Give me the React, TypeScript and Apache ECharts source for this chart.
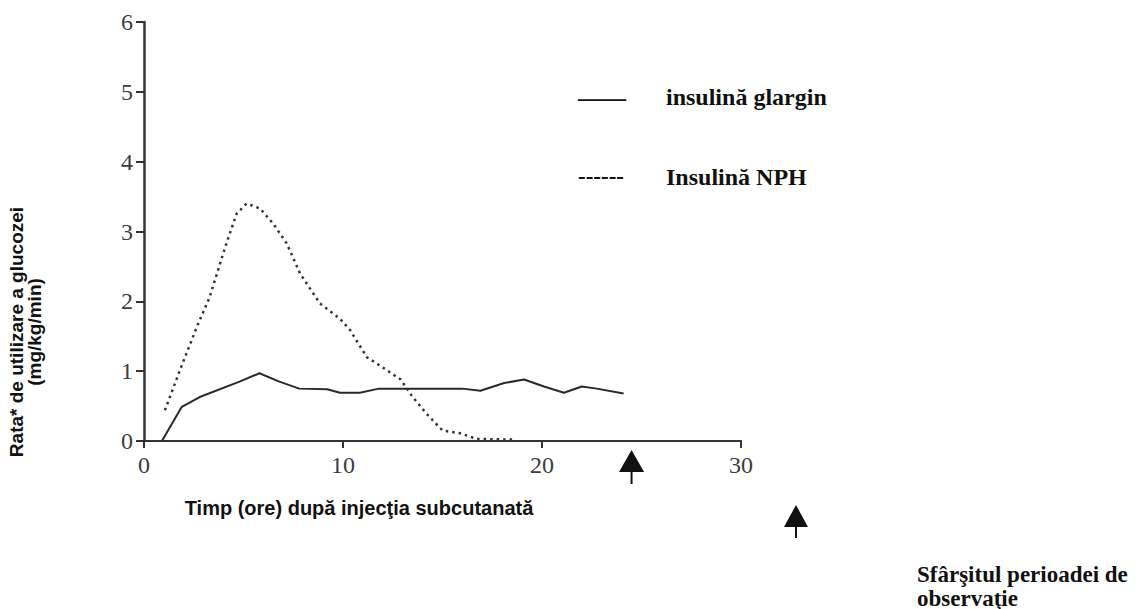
import React, { useEffect, useRef } from "react";
import * as echarts from "echarts";

// Time (hours) and glucose utilisation rate (mg/kg/min)
const glarginX = [0.9, 1.9, 2.8, 4.8, 5.8, 6.8, 7.8, 9.2, 9.85, 10.85, 11.8, 13.0, 16.0, 16.9, 18.1, 19.1, 20.1, 21.1, 22.0, 22.75, 24.1];
const glarginY = [0.0, 0.49, 0.63, 0.85, 0.97, 0.85, 0.75, 0.74, 0.69, 0.69, 0.75, 0.75, 0.75, 0.72, 0.83, 0.88, 0.78, 0.69, 0.78, 0.75, 0.68];

const nphX = [1.05, 1.8, 2.65, 3.3, 4.05, 4.66, 5.16, 5.83, 6.5, 7.17, 7.84, 8.84, 9.85, 10.35, 11.2, 11.86, 12.9, 13.5, 14.2, 15.0, 15.9, 16.7, 18.6];
const nphY = [0.44, 1.01, 1.63, 2.06, 2.75, 3.26, 3.4, 3.33, 3.11, 2.83, 2.4, 1.97, 1.75, 1.59, 1.2, 1.08, 0.88, 0.63, 0.39, 0.15, 0.11, 0.03, 0.02];

const xTicks = [0, 10, 20, 30];
const yTicks = [0, 1, 2, 3, 4, 5, 6];
const endOfObservation = 24.5;

const legendLabels = ["insulină glargin", "Insulină NPH"];
const legendMarks = ["____", "------"];
const yTitle = ["Rata* de utilizare a glucozei", "(mg/kg/min)"];
const xTitle = "Timp (ore) după injecţia subcutanată";
const noteLines = ["Sfârşitul perioadei de", "observaţie"];

const serif = "Liberation Serif";
const sans = "Liberation Sans";
const ink = "#2a2a2a";

function boldText(x: number, y: number, text: string, family: string, size: number, extra: any = {}) {
  return {
    type: "text",
    x,
    y,
    ...extra,
    style: {
      text,
      fontFamily: family,
      fontSize: size,
      fontWeight: "bold",
      fill: "#111",
      verticalAlign: "middle",
      align: "left",
      ...(extra.style || {}),
    },
  };
}

function arrow(cx: number, tipY: number, w: number, h: number, stem: number) {
  return {
    type: "group",
    children: [
      {
        type: "polygon",
        shape: { points: [[cx, tipY], [cx - w / 2, tipY + h], [cx + w / 2, tipY + h]] },
        style: { fill: "#111" },
      },
      {
        type: "line",
        shape: { x1: cx, y1: tipY + h - 1, x2: cx, y2: tipY + h + stem },
        style: { stroke: "#111", lineWidth: 2 },
      },
    ],
  };
}

export default function App() {
  const ref = useRef<HTMLDivElement>(null);
  useEffect(() => {
    if (!ref.current) return;
    const chart = echarts.init(ref.current, undefined, { renderer: "svg" });
    chart.setOption({
      animation: false,
      backgroundColor: "#fff",
      grid: { left: 144, right: 399, top: 22, bottom: 168, containLabel: false },
      xAxis: {
        type: "value",
        min: 0,
        max: 30,
        interval: 10,
        axisLine: { show: true, lineStyle: { color: "#333", width: 2 } },
        axisTick: { show: true, inside: false, length: 7, lineStyle: { color: "#333", width: 2 } },
        axisLabel: {
          fontFamily: serif,
          fontSize: 24,
          color: "#3d3d3d",
          margin: 12,
          formatter: (v: number) => (xTicks.includes(v) ? String(v) : ""),
        },
        splitLine: { show: false },
      },
      yAxis: {
        type: "value",
        min: 0,
        max: 6,
        interval: 1,
        axisLine: { show: true, lineStyle: { color: "#333", width: 2.5 } },
        axisTick: { show: true, length: 8, lineStyle: { color: "#333", width: 2 } },
        axisLabel: {
          fontFamily: serif,
          fontSize: 24,
          color: "#3d3d3d",
          margin: 11,
          formatter: (v: number) => (yTicks.includes(v) ? String(v) : ""),
        },
        splitLine: { show: false },
      },
      series: [
        {
          name: legendLabels[0],
          type: "line",
          data: glarginX.map((x, i) => [x, glarginY[i]]),
          showSymbol: false,
          lineStyle: { color: ink, width: 2 },
        },
        {
          name: legendLabels[1],
          type: "line",
          data: nphX.map((x, i) => [x, nphY[i]]),
          showSymbol: false,
          lineStyle: { color: "#333", width: 2.5, type: [2.5, 4] },
        },
      ],
    });

    const [ax] = chart.convertToPixel({ gridIndex: 0 }, [endOfObservation, 0]) as number[];

    chart.setOption({
      graphic: [
        boldText(578, 90, legendMarks[0], serif, 24),
        boldText(666, 97, legendLabels[0], serif, 24),
        boldText(578, 176, legendMarks[1], serif, 23),
        boldText(666, 177, legendLabels[1], serif, 24),
        boldText(16, 332, yTitle[0], sans, 19, { rotation: Math.PI / 2, style: { align: "center" } }),
        boldText(34, 332, yTitle[1], sans, 19, { rotation: Math.PI / 2, style: { align: "center" } }),
        boldText(359, 508, xTitle, sans, 20, { style: { align: "center" } }),
        arrow(ax, 450, 25, 22, 12),
        arrow(796, 505, 24, 22, 11),
        boldText(917, 574, noteLines[0], serif, 23),
        boldText(917, 598, noteLines[1], serif, 23),
      ],
    });
    return () => chart.dispose();
  }, []);
  return (
    <div
      ref={ref}
      style={{ position: "fixed", left: 0, top: 0, width: 1140, height: 609, background: "#fff" }}
    />
  );
}
